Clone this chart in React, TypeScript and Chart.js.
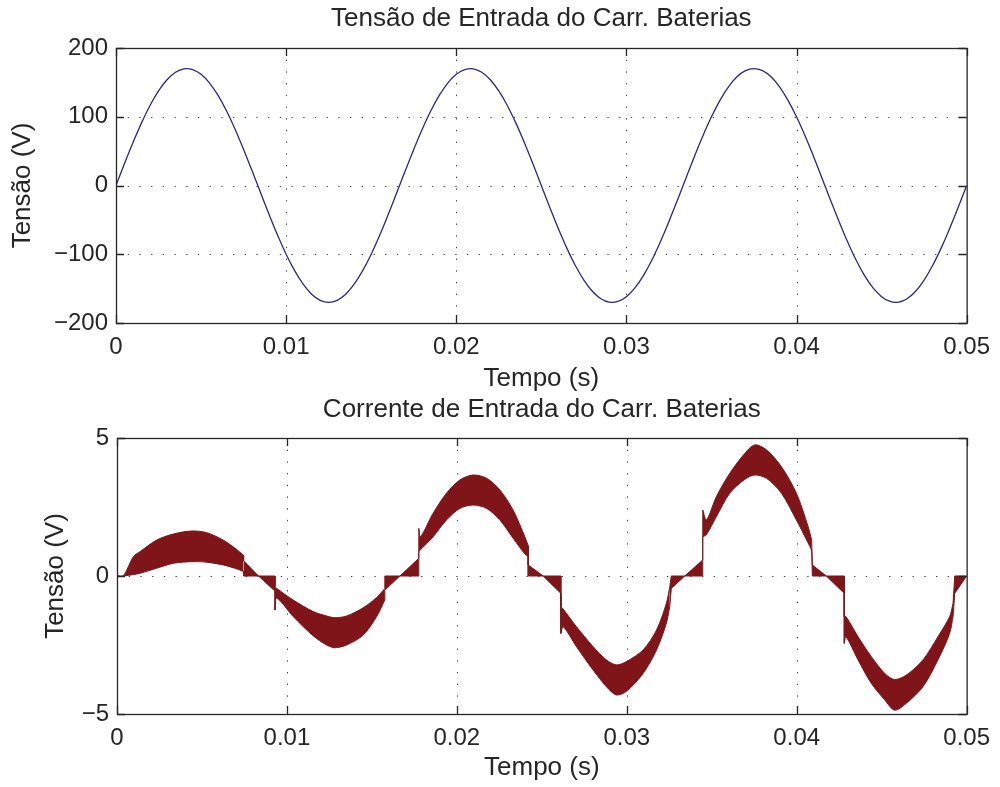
import React, { useEffect, useRef } from 'react';
import { Chart, registerables } from 'chart.js';

Chart.register(...registerables);

// ---------- Data ----------
// Top plot: input voltage (V) vs time (s)
const voltTime = [
  0, 0.0005, 0.001, 0.0015, 0.002, 0.0025, 0.003, 0.0035, 0.004, 0.0045,
  0.005, 0.0055, 0.006, 0.0065, 0.007, 0.0075, 0.008, 0.0085, 0.009, 0.0095,
  0.01, 0.0105, 0.011, 0.0115, 0.012, 0.0125, 0.013, 0.0135, 0.014, 0.0145,
  0.015, 0.0155, 0.016, 0.0165, 0.017, 0.0175, 0.018, 0.0185, 0.019, 0.0195,
  0.02, 0.0205, 0.021, 0.0215, 0.022, 0.0225, 0.023, 0.0235, 0.024, 0.0245,
  0.025, 0.0255, 0.026, 0.0265, 0.027, 0.0275, 0.028, 0.0285, 0.029, 0.0295,
  0.03, 0.0305, 0.031, 0.0315, 0.032, 0.0325, 0.033, 0.0335, 0.034, 0.0345,
  0.035, 0.0355, 0.036, 0.0365, 0.037, 0.0375, 0.038, 0.0385, 0.039, 0.0395,
  0.04, 0.0405, 0.041, 0.0415, 0.042, 0.0425, 0.043, 0.0435, 0.044, 0.0445,
  0.045, 0.0455, 0.046, 0.0465, 0.047, 0.0475, 0.048, 0.0485, 0.049, 0.0495,
  0.05,
];
const voltValues = [
  0, 31.9, 62.6, 91.1, 116.4, 137.5, 153.8, 164.7, 169.7, 168.7,
  161.7, 149.0, 131.0, 108.4, 81.9, 52.5, 21.3, -10.7, -42.3, -72.4,
  -99.9, -123.9, -143.5, -158.1, -167.0, -170.0, -167.0, -158.1, -143.5, -123.9,
  -99.9, -72.4, -42.3, -10.7, 21.3, 52.5, 81.9, 108.4, 131.0, 149.0,
  161.7, 168.7, 169.7, 164.7, 153.8, 137.5, 116.4, 91.1, 62.6, 31.9,
  0, -31.9, -62.6, -91.1, -116.4, -137.5, -153.8, -164.7, -169.7, -168.7,
  -161.7, -149.0, -131.0, -108.4, -81.9, -52.5, -21.3, 10.7, 42.3, 72.4,
  99.9, 123.9, 143.5, 158.1, 167.0, 170.0, 167.0, 158.1, 143.5, 123.9,
  99.9, 72.4, 42.3, 10.7, -21.3, -52.5, -81.9, -108.4, -131.0, -149.0,
  -161.7, -168.7, -169.7, -164.7, -153.8, -137.5, -116.4, -91.1, -62.6, -31.9,
  0,
];

// Bottom plot: input current ripple band (upper and lower envelope)
const curTime = [
  0, 0.00037, 0.00096, 0.00135, 0.00233, 0.00331, 0.00439, 0.00528, 0.00625, 0.007,
  0.00745, 0.00745, 0.00833, 0.0093, 0.0093, 0.0094, 0.01037, 0.01155, 0.01234, 0.01282,
  0.01351, 0.01449, 0.01528, 0.01576, 0.01576, 0.01665, 0.01776, 0.01776, 0.01786, 0.0186,
  0.01939, 0.02018, 0.02096, 0.02175, 0.02253, 0.02331, 0.024, 0.0242, 0.0242, 0.02508,
  0.02612, 0.02612, 0.02626, 0.02704, 0.02802, 0.0288, 0.02939, 0.02998, 0.03096, 0.03175,
  0.03233, 0.03253, 0.03262, 0.03341, 0.03447, 0.03447, 0.03469, 0.03527, 0.03606, 0.03694,
  0.03753, 0.03822, 0.0391, 0.03998, 0.04067, 0.04088, 0.04092, 0.04174, 0.0428, 0.0428,
  0.0429, 0.04361, 0.04439, 0.04518, 0.04576, 0.04645, 0.04743, 0.04831, 0.049, 0.0492,
  0.0493, 0.05,
];
const curUpper = [
  0, 0, 0.7, 0.88, 1.3, 1.52, 1.63, 1.57, 1.3, 0.98,
  0.75, 0.55, 0, 0, -0.39, -0.45, -0.87, -1.29, -1.45, -1.51,
  -1.45, -1.15, -0.78, -0.45, 0, 0, 0.64, 1.73, 1.42, 2.27,
  3.0, 3.48, 3.66, 3.54, 3.12, 2.39, 1.42, 1.1, 0.4, 0,
  0, -1.11, -1.2, -1.84, -2.56, -3.04, -3.22, -3.1, -2.68, -1.96,
  -0.99, -0.39, 0, 0, 0.58, 2.39, 2.03, 2.87, 3.72, 4.44,
  4.75, 4.57, 3.96, 3.0, 1.79, 1.3, 0.4, 0, 0, -1.47,
  -1.47, -2.2, -2.92, -3.53, -3.75, -3.59, -3.04, -2.2, -1.47, -0.99,
  0, 0,
];
const curLower = [
  0, 0, 0.05, 0.1, 0.28, 0.46, 0.52, 0.5, 0.4, 0.27,
  0.16, 0, 0, -0.55, -1.23, -0.8, -1.47, -2.17, -2.5, -2.6,
  -2.5, -2.14, -1.47, -0.87, -0.51, 0, 0, 0.88, 0.95, 1.42,
  2.03, 2.45, 2.57, 2.45, 2.03, 1.37, 0.8, 0.7, 0, 0,
  -0.63, -2.08, -1.84, -2.56, -3.41, -4.01, -4.31, -4.18, -3.53, -2.68,
  -1.71, -1.1, -0.45, 0, 0, 1.42, 1.5, 2.15, 3.0, 3.5,
  3.66, 3.54, 3.0, 2.03, 1.2, 0.94, 0, 0, -0.63, -2.44,
  -2.2, -3.04, -3.89, -4.49, -4.86, -4.61, -4.01, -3.04, -2.08, -1.47,
  -0.63, 0,
];
// Index ranges of the current series: conduction lobes (smooth) and dead zones with
// their vertical switching steps (straight)
const curPieces: [number, number, boolean][] = [
  [0, 10, true], [10, 14, false], [14, 23, true], [23, 27, false],
  [27, 37, true], [37, 41, false], [41, 51, true], [51, 55, false],
  [55, 65, true], [65, 69, false], [69, 79, true], [79, 81, false],
];

const xTickLabels = ['0', '0.01', '0.02', '0.03', '0.04', '0.05'];
const voltTickLabels = ['\u2212200', '\u2212100', '0', '100', '200'];
const curTickLabels = ['\u22125', '0', '5'];

const topTitle = 'Tensão de Entrada do Carr. Baterias';
const bottomTitle = 'Corrente de Entrada do Carr. Baterias';
const xTitle = 'Tempo (s)';
const yTitle = 'Tensão (V)';

// ---------- Styling ----------
const FONT = '"Liberation Sans", Arial, Helvetica, sans-serif';
const TEXT = '#262626';
const BLUE = '#2a2a86';
const RED = '#7f1518';

const matlabFrame = {
  id: 'matlabFrame',
  beforeDatasetsDraw(chart: any) {
    const { ctx, chartArea: a } = chart;
    const xs = chart.scales.x;
    const ys = chart.scales.y;
    ctx.save();
    ctx.strokeStyle = '#3c3c3c';
    ctx.lineWidth = 1;
    ctx.setLineDash([1.3, 10.4]);
    ctx.beginPath();
    for (const t of xs.ticks) {
      const px = Math.round(xs.getPixelForValue(t.value)) + 0.5;
      if (px <= a.left + 2 || px >= a.right - 2) continue;
      ctx.moveTo(px, a.top);
      ctx.lineTo(px, a.bottom);
    }
    for (const t of ys.ticks) {
      const py = Math.round(ys.getPixelForValue(t.value)) + 0.5;
      if (py <= a.top + 2 || py >= a.bottom - 2) continue;
      ctx.moveTo(a.left, py);
      ctx.lineTo(a.right, py);
    }
    ctx.stroke();
    ctx.restore();
  },
  afterDatasetsDraw(chart: any) {
    const { ctx, chartArea: a } = chart;
    const xs = chart.scales.x;
    const ys = chart.scales.y;
    const L = 8;
    ctx.save();
    ctx.strokeStyle = TEXT;
    ctx.lineWidth = 1.3;
    ctx.setLineDash([]);
    ctx.beginPath();
    for (const t of xs.ticks) {
      const px = Math.round(xs.getPixelForValue(t.value)) + 0.5;
      ctx.moveTo(px, a.bottom);
      ctx.lineTo(px, a.bottom - L);
      ctx.moveTo(px, a.top);
      ctx.lineTo(px, a.top + L);
    }
    for (const t of ys.ticks) {
      const py = Math.round(ys.getPixelForValue(t.value)) + 0.5;
      ctx.moveTo(a.left, py);
      ctx.lineTo(a.left + L, py);
      ctx.moveTo(a.right, py);
      ctx.lineTo(a.right - L, py);
    }
    ctx.stroke();
    ctx.strokeRect(a.left + 0.5, a.top + 0.5, a.right - a.left, a.bottom - a.top);
    ctx.restore();
  },
};

function makeOptions(p: {
  title: string;
  titlePad: { top: number; bottom: number };
  xHeight: number;
  xTitlePadBottom: number;
  yWidth: number;
  yTitlePadTop: number;
  yMin: number;
  yMax: number;
  yStep: number;
  yLabels: string[];
}) {
  return {
    animation: false,
    responsive: false,
    events: [],
    layout: { padding: { left: 0, right: 33, top: 0, bottom: 0 } },
    plugins: {
      legend: { display: false },
      tooltip: { enabled: false },
      title: {
        display: true,
        text: p.title,
        fullSize: false,
        color: TEXT,
        font: { family: FONT, size: 26, weight: 'normal' },
        padding: p.titlePad,
      },
    },
    scales: {
      x: {
        type: 'linear',
        min: 0,
        max: 0.05,
        grid: { display: false, drawTicks: false },
        border: { display: false },
        ticks: {
          stepSize: 0.01,
          autoSkip: false,
          maxRotation: 0,
          padding: 10,
          color: TEXT,
          font: { family: FONT, size: 24 },
          callback: (_v: any, i: number) => xTickLabels[i],
        },
        title: {
          display: true,
          text: xTitle,
          color: TEXT,
          font: { family: FONT, size: 26 },
          padding: { top: 0, bottom: p.xTitlePadBottom },
        },
        afterFit: (s: any) => {
          s.height = p.xHeight;
        },
      },
      y: {
        type: 'linear',
        min: p.yMin,
        max: p.yMax,
        grid: { display: false, drawTicks: false },
        border: { display: false },
        ticks: {
          stepSize: p.yStep,
          autoSkip: false,
          padding: 8,
          color: TEXT,
          font: { family: FONT, size: 24 },
          callback: (_v: any, i: number) => p.yLabels[i],
        },
        title: {
          display: true,
          text: yTitle,
          color: TEXT,
          font: { family: FONT, size: 26 },
          padding: { top: p.yTitlePadTop, bottom: 0 },
        },
        afterFit: (s: any) => {
          s.width = p.yWidth;
        },
      },
    },
  };
}

function currentDatasets() {
  const sets: any[] = [];
  for (const [a, b, smooth] of curPieces) {
    const tension = smooth ? 0.3 : 0;
    const up = [];
    const lo = [];
    for (let i = a; i <= b; i++) {
      up.push({ x: curTime[i], y: curUpper[i] });
      lo.push({ x: curTime[i], y: curLower[i] });
    }
    sets.push({
      data: up,
      borderColor: RED,
      borderWidth: 1,
      pointRadius: 0,
      fill: false,
      tension,
    });
    sets.push({
      data: lo,
      borderColor: RED,
      borderWidth: 1,
      pointRadius: 0,
      backgroundColor: RED,
      fill: '-1',
      tension,
    });
  }
  return sets;
}

export default function App() {
  const topRef = useRef<HTMLCanvasElement | null>(null);
  const botRef = useRef<HTMLCanvasElement | null>(null);

  useEffect(() => {
    if (!topRef.current || !botRef.current) return;
    const topChart = new Chart(topRef.current, {
      type: 'line',
      data: {
        datasets: [
          {
            data: voltTime.map((t, i) => ({ x: t, y: voltValues[i] })),
            borderColor: BLUE,
            borderWidth: 1.3,
            pointRadius: 0,
            fill: false,
            tension: 0.4,
          },
        ],
      },
      options: makeOptions({
        title: topTitle,
        titlePad: { top: 3.4, bottom: 13.4 },
        xHeight: 71,
        xTitlePadBottom: 0,
        yWidth: 116,
        yTitlePadTop: 7.4,
        yMin: -200,
        yMax: 200,
        yStep: 100,
        yLabels: voltTickLabels,
      }) as any,
      plugins: [matlabFrame],
    });

    const botChart = new Chart(botRef.current, {
      type: 'line',
      data: { datasets: currentDatasets() },
      options: makeOptions({
        title: bottomTitle,
        titlePad: { top: 0, bottom: 12.8 },
        xHeight: 73,
        xTitlePadBottom: 3.4,
        yWidth: 117,
        yTitlePadTop: 40,
        yMin: -5,
        yMax: 5,
        yStep: 5,
        yLabels: curTickLabels,
      }) as any,
      plugins: [matlabFrame],
    });

    return () => {
      topChart.destroy();
      botChart.destroy();
    };
  }, []);

  return (
    <div style={{ position: 'absolute', left: 0, top: 0, width: 1000, height: 787, background: '#ffffff' }}>
      <canvas
        ref={topRef}
        width={1000}
        height={394}
        style={{ position: 'absolute', left: 0, top: 0, width: 1000, height: 394 }}
      />
      <canvas
        ref={botRef}
        width={1000}
        height={393}
        style={{ position: 'absolute', left: 0, top: 394, width: 1000, height: 393 }}
      />
    </div>
  );
}
